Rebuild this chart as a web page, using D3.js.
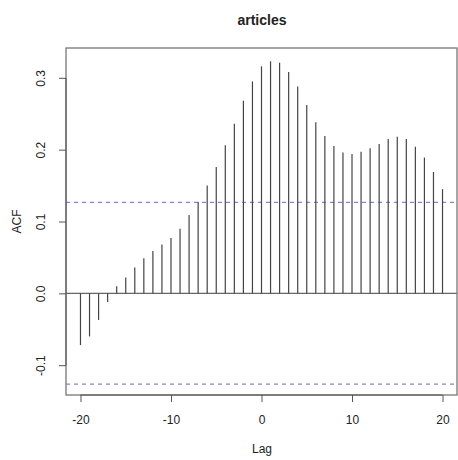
<!DOCTYPE html>
<html lang="en">
  <head>
    <meta charset="utf-8">
    <title>articles</title>
    <script type="text/javascript" src="https://d3js.org/d3.v7.min.js"></script>
    <style type="text/css">
    body {
      margin: 0;
      background: white;
    }
    text {
      font-family: "Liberation Sans", Arial, Helvetica, sans-serif;
      fill: #222;
    }
    .charttitle {
      font-size: 14px;
      font-weight: bold;
    }
    .axis path,
    .axis line {
      stroke: #555;
    }
    .axis text {
      font-size: 12px;
      fill: #222;
    }
    .label {
      font-size: 12px;
    }
    </style>
  </head>
  <body>
    <svg width="458" height="460" id="svg1"></svg>

    <script type="text/javascript">

// lags and acf values
    const lags = d3.range(-20, 21);
    const acf = [-0.072, -0.060, -0.037, -0.012, 0.010, 0.022, 0.036, 0.049, 0.059, 0.068,
                 0.077, 0.090, 0.109, 0.127, 0.150, 0.176, 0.206, 0.236, 0.268, 0.295,
                 0.316, 0.323, 0.321, 0.308, 0.288, 0.262, 0.238, 0.219, 0.205, 0.196,
                 0.194, 0.197, 0.202, 0.208, 0.215, 0.218, 0.215, 0.204, 0.189, 0.169,
                 0.145];
    const ci = 0.1265;
    const xTicks = [-20, -10, 0, 10, 20];
    const yTicks = [-0.1, 0.0, 0.1, 0.2, 0.3];

    const dataset = lags.map((d, i) => ({lag: d, acf: acf[i]}));

    const plotL = 66, plotR = 457, plotT = 48, plotB = 395;

    const xScale = d3.scaleLinear()
        .domain([-21.6, 21.6])
        .range([plotL, plotR]);

    const yScale = d3.scaleLinear()
        .domain([-0.1415, 0.3415])
        .range([plotB, plotT]);

    const svg = d3.select("#svg1");

    svg.append("text")
        .attr("class", "charttitle")
        .attr("x", 262)
        .attr("y", 25)
        .attr("text-anchor", "middle")
        .text("articles");

    // zero line
    svg.append("line")
        .attr("x1", plotL)
        .attr("x2", plotR)
        .attr("y1", yScale(0))
        .attr("y2", yScale(0))
        .attr("stroke", "#666")
        .attr("stroke-width", 1.2);

    // confidence bounds
    svg.selectAll(".ci")
        .data([ci, -ci])
        .enter()
        .append("line")
        .attr("class", "ci")
        .attr("x1", plotL)
        .attr("x2", plotR)
        .attr("y1", d => yScale(d))
        .attr("y2", d => yScale(d))
        .attr("stroke", "#8585d0")
        .attr("stroke-width", 1.2)
        .attr("stroke-dasharray", "4,4");

    // acf spikes
    svg.selectAll(".spike")
        .data(dataset)
        .enter()
        .append("line")
        .attr("class", "spike")
        .attr("x1", d => xScale(d.lag))
        .attr("x2", d => xScale(d.lag))
        .attr("y1", yScale(0))
        .attr("y2", d => yScale(d.acf))
        .attr("stroke", "#444")
        .attr("stroke-width", 1.2);

    // box
    svg.append("rect")
        .attr("x", plotL)
        .attr("y", plotT)
        .attr("width", plotR - plotL)
        .attr("height", plotB - plotT)
        .attr("fill", "none")
        .attr("stroke", "#777")
        .attr("stroke-width", 1.3);

    const bottomAxis = d3.axisBottom(xScale)
        .tickValues(xTicks)
        .tickSize(7)
        .tickPadding(13)
        .tickFormat(d => String(d));

    const leftAxis = d3.axisLeft(yScale)
        .tickValues(yTicks)
        .tickSize(7)
        .tickPadding(0)
        .tickFormat(d => d.toFixed(1));

    svg.append("g")
        .attr("class", "axis")
        .attr("transform", "translate(0," + plotB + ")")
        .call(bottomAxis)
        .call(g => g.select(".domain")
            .attr("d", "M" + xScale(-20) + ",0H" + xScale(20)));

    const gl = svg.append("g")
        .attr("class", "axis")
        .attr("transform", "translate(" + plotL + ",0)")
        .call(leftAxis)
        .call(g => g.select(".domain")
            .attr("d", "M0," + yScale(-0.1) + "V" + yScale(0.3)));

    gl.selectAll(".tick text")
        .attr("text-anchor", "middle")
        .attr("x", 0)
        .attr("dy", 0)
        .attr("transform", "translate(-21,0) rotate(-90)");

    svg.append("text")
        .attr("class", "label")
        .attr("text-anchor", "middle")
        .attr("x", 262)
        .attr("y", 453)
        .text("Lag");

    svg.append("text")
        .attr("class", "label")
        .attr("text-anchor", "middle")
        .attr("transform", "translate(21," + yScale(0.1) + ") rotate(-90)")
        .text("ACF");

    </script>
  </body>
</html>
